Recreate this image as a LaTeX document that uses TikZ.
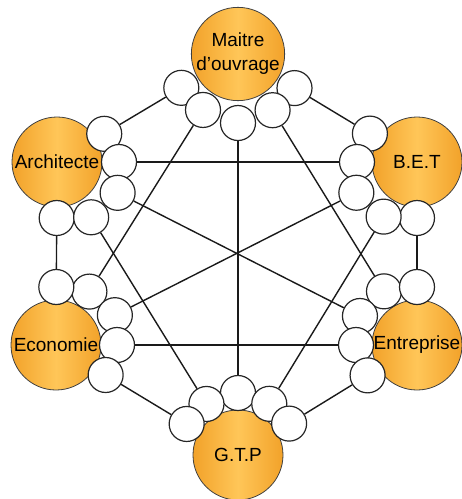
\documentclass[tikz,border=0pt]{standalone}
\usepackage{fontspec}
\setmainfont{Liberation Sans}
\usetikzlibrary{calc,backgrounds}
\definecolor{corange}{HTML}{F2A22A}
\definecolor{corangeL}{HTML}{FFC658}
\definecolor{cline}{HTML}{1A1A1A}
\tikzset{
  actor/.style={circle, draw=black!75, line width=0.8pt, minimum size=90pt,
                inner sep=0pt, align=center, left color=corange,
                right color=corange, middle color=corangeL,
                font=\fontsize{19}{24}\selectfont},
  port/.style={circle, draw=black!85, fill=white, line width=1.2pt,
               minimum size=35pt, inner sep=0pt},
  link/.style={line width=1.4pt, draw=cline},
}

\begin{document}
\begin{tikzpicture}[x=1pt, y=-1pt]
  \useasboundingbox (0,0) rectangle (462,499);
  \node[actor] (mo)  at (238,54)  {Maitre\\d'ouvrage};
  \node[actor] (ar)  at (57,162)  {Architecte};
  \node[actor] (bet) at (417,162) {B.E.T};
  \node[actor] (eco) at (56,345)  {Economie};
  \node[actor] (ent) at (417,345) {Entreprise};
  \node[actor] (gtp) at (238,455) {G.T.P};
  % one port at each end of every link (from/to/offset at from/offset at to)
  \foreach \a/\b/\da/\db in {mo/ar/66/55, mo/bet/66/55, mo/eco/66/63,
      mo/ent/66/63, mo/gtp/69/62, ar/bet/62/60, ar/eco/56/58, ar/ent/68/64,
      ar/gtp/65/60, bet/eco/68/66, bet/ent/56/58, bet/gtp/64/60,
      eco/ent/61/61, eco/gtp/58/60, ent/gtp/58/60} {
    \node[port] (\a-\b) at ($(\a.center)!\da pt!(\b.center)$) {};
    \node[port] (\b-\a) at ($(\b.center)!\db pt!(\a.center)$) {};
    \begin{scope}[on background layer]
      \draw[link] (\a-\b) -- (\b-\a);
    \end{scope}
  }
\end{tikzpicture}
\end{document}
